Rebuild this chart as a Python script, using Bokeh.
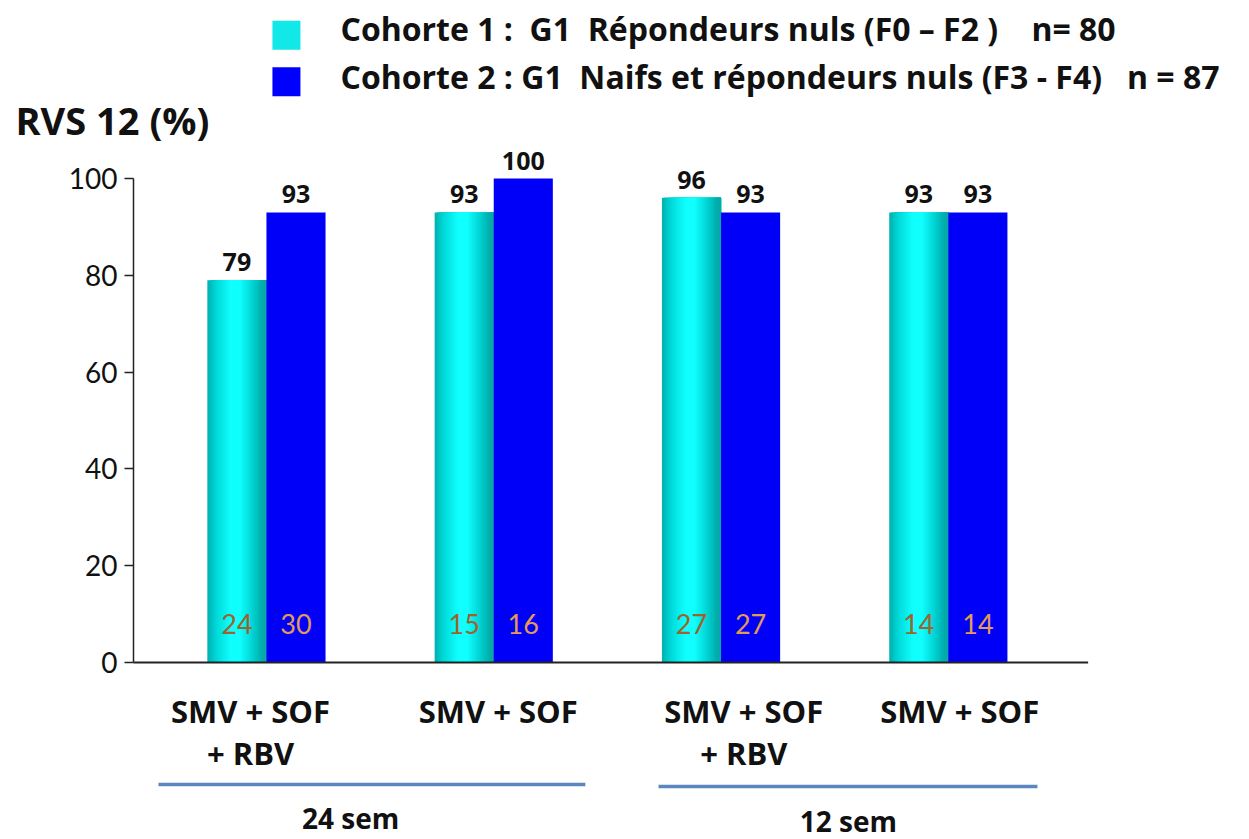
from bokeh.plotting import figure
from bokeh.models import Range1d, LinearAxis, FixedTicker
from bokeh.core.properties import value
from bokeh.embed import file_html
from bokeh.resources import INLINE

# ---------------- data ----------------
treatments = ["SMV + SOF\n+ RBV", "SMV + SOF", "SMV + SOF\n+ RBV", "SMV + SOF"]
durations = ["24 sem", "12 sem"]
cohort1_rvs = [79, 93, 96, 93]
cohort2_rvs = [93, 100, 93, 93]
cohort1_n = [24, 15, 27, 14]
cohort2_n = [30, 16, 27, 14]
legend_labels = [
    "Cohorte 1 :\u00a0 G1\u00a0 Répondeurs nuls (F0 – F2 )\u00a0\u00a0\u00a0 n= 80",
    "Cohorte 2 : G1\u00a0 Naifs et répondeurs nuls (F3 - F4)\u00a0\u00a0 n = 87",
]
y_title = "RVS 12 (%)"
y_ticks = [0, 20, 40, 60, 80, 100]

# ---------------- style ----------------
BOLD = "Open Sans"
CYAN_STOPS = [(0.0, (0x00, 0xB0, 0xB0)), (0.15, (0x00, 0xD8, 0xD8)), (0.40, (0x10, 0xFF, 0xFF)),
              (0.55, (0x10, 0xFF, 0xFF)), (0.78, (0x00, 0xD0, 0xD0)), (0.92, (0x00, 0xAE, 0xAE)),
              (1.0, (0x10, 0xA4, 0xA4))]
BLUE = "#0000F8"
N_COLOR_1 = "#9C642C"
N_COLOR_2 = "#E39A55"
BAR_W = 0.26
N_STRIPS = 30
X0, X1 = -1.170, 4.325          # visible x extent (group index units)
AXIS_X = -0.585                 # where the y axis sits


def grad(t):
    for (p0, c0), (p1, c1) in zip(CYAN_STOPS[:-1], CYAN_STOPS[1:]):
        if p0 <= t <= p1:
            f = (t - p0) / (p1 - p0)
            c = [round(a + (b - a) * f) for a, b in zip(c0, c1)]
            return "#%02x%02x%02x" % tuple(c)
    return "#%02x%02x%02x" % CYAN_STOPS[-1][1]


groups = list(range(len(treatments)))
x1 = [g - BAR_W / 2 for g in groups]
x2 = [g + BAR_W / 2 for g in groups]

p = figure(width=1249, height=839,
           x_range=Range1d(X0, X1), y_range=Range1d(-36.57, 136.78),
           output_backend="svg", toolbar_location=None,
           x_axis_type=None, y_axis_type=None,
           min_border_left=0, min_border_right=0, min_border_top=0, min_border_bottom=0,
           outline_line_color=None, background_fill_color="white")

# y axis, drawn at a fixed location inside the frame
yaxis = LinearAxis(ticker=FixedTicker(ticks=y_ticks), bounds=(0, 100), fixed_location=AXIS_X)
yaxis.axis_line_color = "#222222"
yaxis.axis_line_width = 1.5
yaxis.major_tick_out = 9
yaxis.major_tick_in = 0
yaxis.major_tick_line_color = "#222222"
yaxis.major_tick_line_width = 1.5
yaxis.minor_tick_line_color = None
yaxis.major_label_text_font = "Lato"
yaxis.major_label_text_font_size = "28px"
yaxis.major_label_text_color = "#111111"
yaxis.major_label_standoff = 7
p.add_layout(yaxis, "left")

# cohort 1 bars with cylindrical gradient (overlapping strips, no seams)
lefts, rights, tops, cols = [], [], [], []
for xc, v in zip(x1, cohort1_rvs):
    for i in range(N_STRIPS):
        t0 = i / N_STRIPS
        lefts.append(xc - BAR_W / 2 + t0 * BAR_W)
        rights.append(xc + BAR_W / 2)
        tops.append(v)
        cols.append(grad((i + 0.5) / N_STRIPS))
p.quad(left=lefts, right=rights, top=tops, bottom=[0] * len(tops), fill_color=cols, line_color=None)

# cohort 2 bars
p.vbar(x=x2, top=cohort2_rvs, bottom=0, width=BAR_W, fill_color=BLUE, line_color=None)

# x baseline
p.line(x=[AXIS_X, len(groups) - 1 + 0.615], y=[0, 0], line_color="#222222", line_width=2)

# value labels above bars
p.text(x=x1 + x2, y=cohort1_rvs + cohort2_rvs,
       text=[str(v) for v in cohort1_rvs + cohort2_rvs],
       text_align="center", text_baseline="alphabetic", y_offset=-18,
       text_font=value(BOLD), text_font_style="bold", text_font_size="25px", text_color="#111111")

# n labels inside bars
p.text(x=x1, y=[8] * len(x1), text=[str(v) for v in cohort1_n],
       text_align="center", text_baseline="middle",
       text_font=value("Lato"), text_font_size="27px", text_color=N_COLOR_1)
p.text(x=x2, y=[8] * len(x2), text=[str(v) for v in cohort2_n],
       text_align="center", text_baseline="middle",
       text_font=value("Lato"), text_font_size="27px", text_color=N_COLOR_2)

# category labels
label_dx = [-0.07, 0.02, 0.10, 0.05]
p.text(x=[g + d for g, d in zip(groups, label_dx)], y=[-5.6] * len(groups), text=treatments,
       text_align="center", text_baseline="top", text_line_height=1.0,
       text_font=value(BOLD), text_font_style="bold", text_font_size="31px", text_color="#111111")

# duration underline + labels
dur_x = [0.37, 2.56]
p.segment(x0=[-0.475, 1.725], y0=[-25.2, -25.6], x1=[1.403, 3.392], y1=[-25.2, -25.6],
          line_color="#5B87BF", line_width=3.5)
p.text(x=dur_x, y=[-32.2, -32.8], text=durations, text_align="center", text_baseline="middle",
       text_font=value(BOLD), text_font_style="bold", text_font_size="28px", text_color="#111111")

# legend
p.rect(x=[0.088, 0.088], y=[129.6, 120.0], width=28, height=29,
       width_units="screen", height_units="screen",
       fill_color=["#12E8E8", "#0000FF"], line_color=None)
p.text(x=[0.326, 0.326], y=[131.0, 121.1], text=legend_labels,
       text_align="left", text_baseline="middle",
       text_font=value(BOLD), text_font_style="bold", text_font_size="32px", text_color="#111111")

# y title
p.text(x=[-1.104], y=[112.0], text=[y_title], text_align="left", text_baseline="middle",
       text_font=value(BOLD), text_font_style="bold", text_font_size="38px", text_color="#111111")

open("out.html", "w").write(file_html(p, INLINE))
